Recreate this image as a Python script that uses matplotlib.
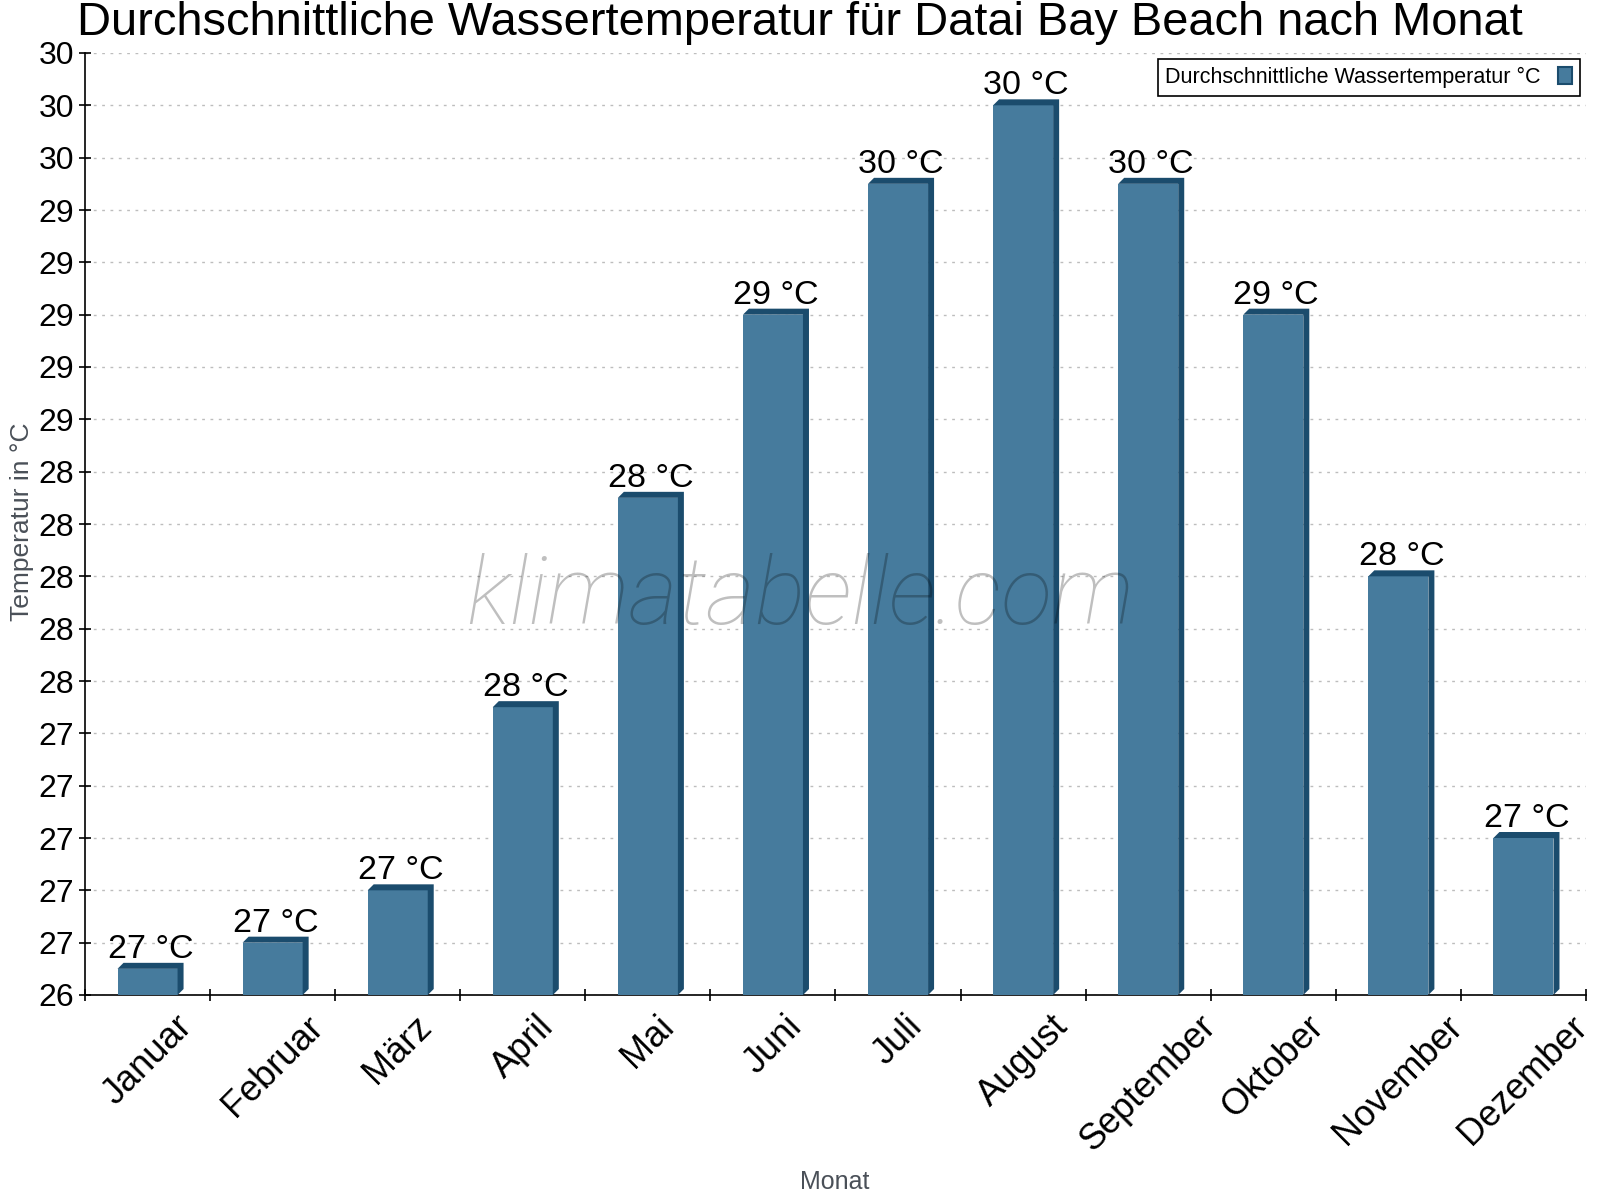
import math
import numpy as np
import matplotlib
matplotlib.use("Agg")
import matplotlib.pyplot as plt
from matplotlib.patches import Polygon, Patch
from matplotlib.ticker import MultipleLocator, FuncFormatter, FixedLocator

months = ["Januar", "Februar", "März", "April", "Mai", "Juni", "Juli",
          "August", "September", "Oktober", "November", "Dezember"]
water_temp = [26.1, 26.2, 26.4, 27.1, 27.9, 28.6, 29.1, 29.4, 29.1, 28.6, 27.6, 26.6]
series_name = "Durchschnittliche Wassertemperatur °C"
title = "Durchschnittliche Wassertemperatur für Datai Bay Beach nach Monat"
y_min, y_max, y_step = 26.0, 29.6, 0.2

face_col = "#467b9d"
dark_col = "#1b4c6d"

plt.rcParams['font.family'] = ['Liberation Sans', 'DejaVu Sans']

fig = plt.figure(figsize=(16, 12), dpi=100)
ax = fig.add_axes([85 / 1600, 1 - 995 / 1200, 1501 / 1600, 942 / 1200])

n = len(months)
ax.set_xlim(-0.5, n - 0.5)
ax.set_ylim(y_min, y_max)

# 3d depth in pixels -> data units
depth = 6
ax_w = ax.get_position().width * fig.get_figwidth() * fig.dpi
ax_h = ax.get_position().height * fig.get_figheight() * fig.dpi
dx = depth * n / ax_w
dy = depth * (y_max - y_min) / ax_h

w = 0.48
x = np.arange(n)
ax.bar(x, np.array(water_temp) - y_min, bottom=y_min, width=w,
       color=face_col, zorder=3)
for xi, v in zip(x, water_temp):
    x0, x1 = xi - w / 2, xi + w / 2
    poly = Polygon([(x0, v), (x0 + dx, v + dy), (x1 + dx, v + dy),
                    (x1 + dx, y_min + dy), (x1, y_min), (x1, v)],
                   closed=True, facecolor=dark_col, edgecolor='none', zorder=3)
    ax.add_patch(poly)
    ax.annotate(f"{math.ceil(round(v, 6))} °C", (xi + dx / 2, v + dy),
                xytext=(0, 5), textcoords='offset pixels',
                ha='center', va='baseline', fontsize=24.5, color='black', zorder=5)

# axes styling
for s in ['top', 'right']:
    ax.spines[s].set_visible(False)
ax.spines['left'].set_linewidth(1.2)
ax.spines['bottom'].set_linewidth(1.2)

ax.yaxis.set_major_locator(MultipleLocator(y_step))
ax.yaxis.set_major_formatter(FuncFormatter(lambda v, p: str(math.ceil(round(v, 6)))))
ax.tick_params(axis='y', direction='inout', length=8, width=1.2, labelsize=23, pad=4)
ax.grid(axis='y', linestyle=(0, (2, 4)), color='#bdbdbd', linewidth=1, zorder=0)

ax.xaxis.set_major_locator(FixedLocator(np.arange(-0.5, n, 1.0)))
ax.xaxis.set_major_formatter(FuncFormatter(lambda v, p: ""))
ax.xaxis.set_minor_locator(FixedLocator(x))
ax.set_xticklabels(months, minor=True, rotation=45, ha='center', fontsize=26)
ax.tick_params(axis='x', which='major', direction='inout', length=8, width=1.2)
ax.tick_params(axis='x', which='minor', length=0, pad=10)

fig.text(835 / 1600, 1 - 1182 / 1200, "Monat", fontsize=18, color='#4a5058',
         ha='center', va='center')
fig.text(22 / 1600, 1 - 522 / 1200, "Temperatur in °C", fontsize=19,
         color='#4a5058', rotation=90, ha='center', va='center')

fig.text(0.5, 1 - 23 / 1200, title, fontsize=33.8, ha='center', va='center')

fig.text(800 / 1600, 1 - 598 / 1200, "klimatabelle.com", fontsize=68,
         family='Roboto', fontweight='light', style='italic',
         color='black', alpha=0.25, ha='center', va='center', zorder=10)

handle = Patch(facecolor=face_col, edgecolor=dark_col, linewidth=1.5)
leg = ax.legend([handle], [series_name], loc='upper right', markerfirst=False,
                fancybox=False, framealpha=1, edgecolor='black', fontsize=15.5,
                handlelength=0.65, handleheight=0.85, handletextpad=0.8,
                borderaxespad=0.3, borderpad=0.35)
leg.get_frame().set_linewidth(1.2)
leg.set_zorder(6)

fig.savefig("out.png", dpi=100)
